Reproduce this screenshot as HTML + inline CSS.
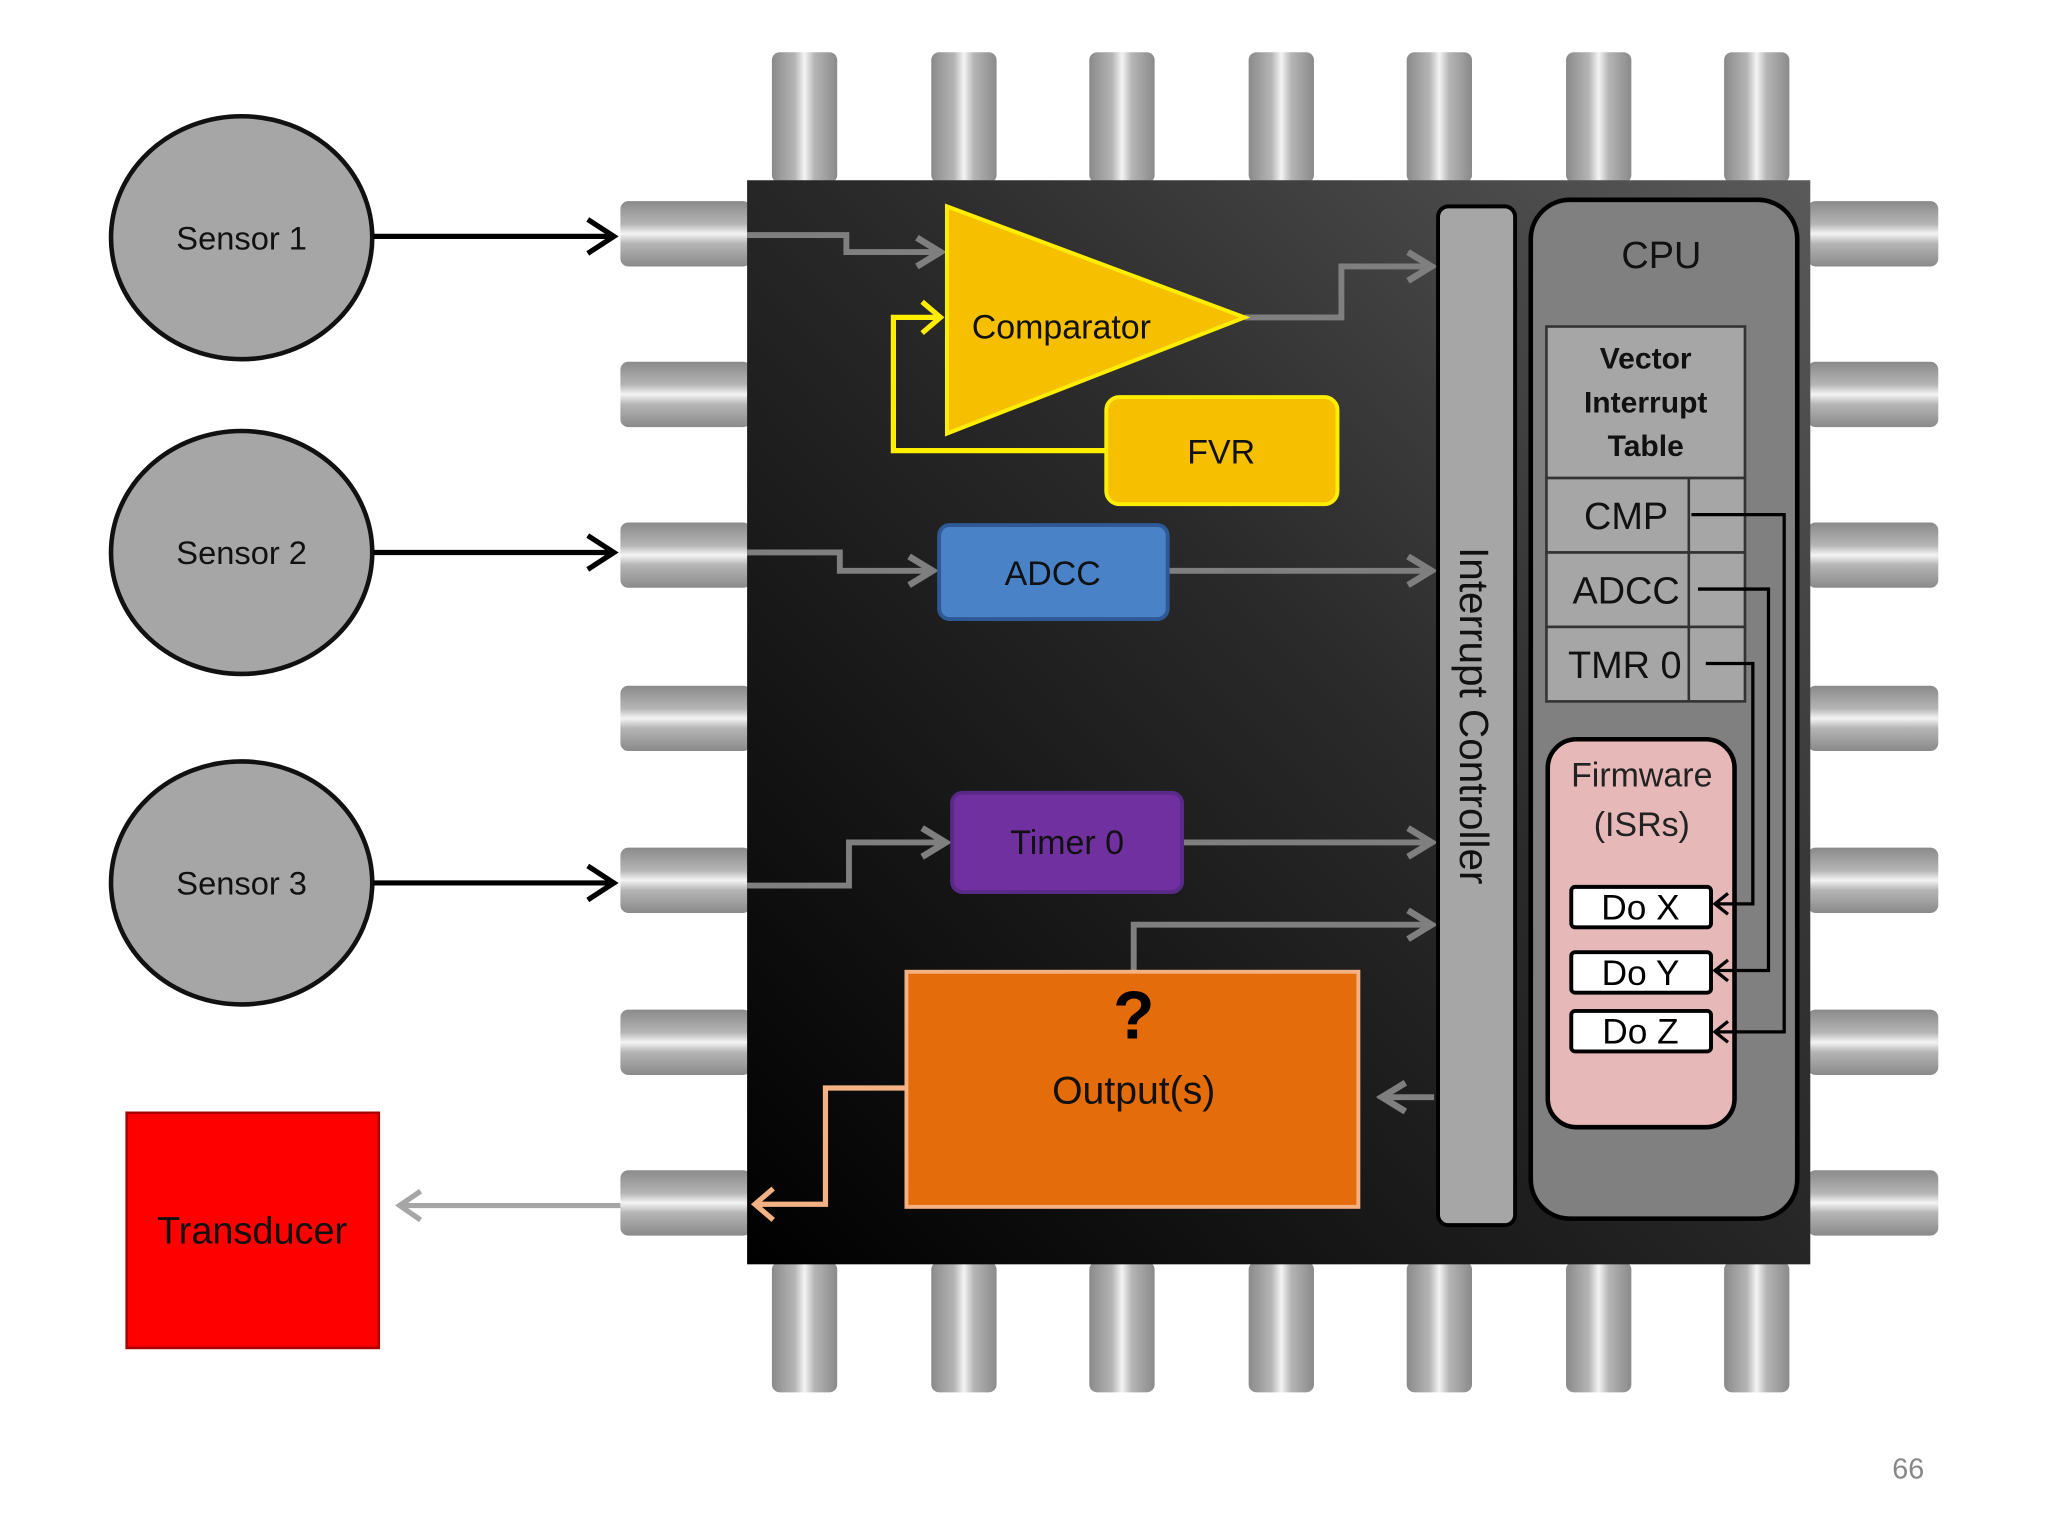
<!DOCTYPE html>
<html><head><meta charset="utf-8"><style>
html,body{margin:0;padding:0;background:#fff;width:2048px;height:1536px;overflow:hidden}
svg{display:block}
text{font-family:"Liberation Sans","DejaVu Sans",sans-serif}
</style></head><body>
<svg width="2048" height="1536" viewBox="0 0 1568 1176" xmlns="http://www.w3.org/2000/svg">
<defs>
<linearGradient id="chip" x1="1" y1="0" x2="0" y2="1">
<stop offset="0" stop-color="#5a5a5a"/><stop offset="0.45" stop-color="#2a2a2a"/><stop offset="1" stop-color="#000"/>
</linearGradient>
<linearGradient id="pinV" x1="0" y1="0" x2="0" y2="1">
<stop offset="0" stop-color="#8a8a8a"/><stop offset="0.35" stop-color="#b5b5b5"/><stop offset="0.5" stop-color="#f4f4f4"/><stop offset="0.65" stop-color="#b5b5b5"/><stop offset="1" stop-color="#8a8a8a"/>
</linearGradient>
<linearGradient id="pinH" x1="0" y1="0" x2="1" y2="0">
<stop offset="0" stop-color="#8a8a8a"/><stop offset="0.35" stop-color="#b5b5b5"/><stop offset="0.5" stop-color="#f4f4f4"/><stop offset="0.65" stop-color="#b5b5b5"/><stop offset="1" stop-color="#8a8a8a"/>
</linearGradient>
<marker id="ag" markerWidth="26" markerHeight="26" refX="22" refY="13" orient="auto" markerUnits="userSpaceOnUse" viewBox="0 0 26 26"><path d="M4,2 L22,13 L4,24" fill="none" stroke="#7f7f7f" stroke-width="5"/></marker>
</defs>

<g fill="url(#pinH)">
<rect x="591" y="40" width="50" height="100" rx="6"/><rect x="713" y="40" width="50" height="100" rx="6"/><rect x="834" y="40" width="50" height="100" rx="6"/><rect x="956" y="40" width="50" height="100" rx="6"/><rect x="1077" y="40" width="50" height="100" rx="6"/><rect x="1199" y="40" width="50" height="100" rx="6"/><rect x="1320" y="40" width="50" height="100" rx="6"/>
<rect x="591" y="966" width="50" height="100" rx="6"/><rect x="713" y="966" width="50" height="100" rx="6"/><rect x="834" y="966" width="50" height="100" rx="6"/><rect x="956" y="966" width="50" height="100" rx="6"/><rect x="1077" y="966" width="50" height="100" rx="6"/><rect x="1199" y="966" width="50" height="100" rx="6"/><rect x="1320" y="966" width="50" height="100" rx="6"/>
</g>
<g fill="url(#pinV)">
<rect x="475" y="154" width="100" height="50" rx="6"/><rect x="475" y="277" width="100" height="50" rx="6"/><rect x="475" y="400" width="100" height="50" rx="6"/><rect x="475" y="525" width="100" height="50" rx="6"/><rect x="475" y="649" width="100" height="50" rx="6"/><rect x="475" y="773" width="100" height="50" rx="6"/><rect x="475" y="896" width="100" height="50" rx="6"/>
<rect x="1384" y="154" width="100" height="50" rx="6"/><rect x="1384" y="277" width="100" height="50" rx="6"/><rect x="1384" y="400" width="100" height="50" rx="6"/><rect x="1384" y="525" width="100" height="50" rx="6"/><rect x="1384" y="649" width="100" height="50" rx="6"/><rect x="1384" y="773" width="100" height="50" rx="6"/><rect x="1384" y="896" width="100" height="50" rx="6"/>
</g>
<rect x="572" y="138" width="814" height="830" fill="url(#chip)"/>

<g fill="#a6a6a6" stroke="#111" stroke-width="3.5">
<ellipse cx="185" cy="182" rx="100" ry="93"/><ellipse cx="185" cy="423" rx="100" ry="93"/><ellipse cx="185" cy="676" rx="100" ry="93"/>
</g>
<g font-size="25" fill="#111" text-anchor="middle">
<text x="185" y="191">Sensor 1</text><text x="185" y="432">Sensor 2</text><text x="185" y="685">Sensor 3</text>
</g>
<g stroke="#000" stroke-width="4" fill="none">
<path d="M286,181H470M450,168L470,181L450,194"/>
<path d="M286,423H470M450,410L470,423L450,436"/>
<path d="M286,676H470M450,663L470,676L450,689"/>
</g>

<rect x="97" y="852" width="193" height="180" fill="#ff0000" stroke="#a00" stroke-width="2"/>
<text x="193" y="952" font-size="29" text-anchor="middle" fill="#111">Transducer</text>
<path d="M475,923H306M322,912L306,923L322,934" stroke="#a6a6a6" stroke-width="4" fill="none"/>

<g stroke="#7f7f7f" stroke-width="4.5" fill="none" marker-end="url(#ag)">
<path d="M572,180H648V193H720"/>
<path d="M953,243H1027V204H1096"/>
<path d="M572,423H643V437H714"/>
<path d="M894,437H1096"/>
<path d="M572,678H650V645H724"/>
<path d="M905,645H1096"/>
<path d="M868,744V708H1096"/>
<path d="M1098,840H1058"/>
</g>

<polygon points="725,158 725,332 953,243" fill="#f6c000" stroke="#ffee00" stroke-width="3"/>
<text x="744" y="259" font-size="26" fill="#111">Comparator</text>
<rect x="847" y="304" width="177" height="82" rx="10" fill="#f6c000" stroke="#ffee00" stroke-width="3"/>
<text x="935" y="355" font-size="26" text-anchor="middle" fill="#111">FVR</text>
<path d="M847,345H684V243H720M706,231L720,243L706,255" stroke="#ffee00" stroke-width="4" fill="none"/>

<rect x="719" y="402" width="175" height="72" rx="8" fill="#4a82c8" stroke="#2d5a96" stroke-width="3"/>
<text x="806" y="448" font-size="26" text-anchor="middle" fill="#111">ADCC</text>
<rect x="729" y="607" width="176" height="76" rx="8" fill="#7030a0" stroke="#5a2a8a" stroke-width="3"/>
<text x="817" y="654" font-size="26" text-anchor="middle" fill="#111">Timer 0</text>

<rect x="694" y="744" width="346" height="180" fill="#e46c0a" stroke="#f4b183" stroke-width="3"/>
<text x="868" y="795" font-size="52" font-weight="bold" text-anchor="middle" fill="#000">?</text>
<text x="868" y="845" font-size="30" text-anchor="middle" fill="#111">Output(s)</text>
<path d="M694,833H632V922H578M592,910L578,922L592,934" stroke="#f4b183" stroke-width="4" fill="none"/>

<rect x="1101" y="158" width="59" height="780" rx="8" fill="#a6a6a6" stroke="#000" stroke-width="3"/>
<text transform="translate(1118,548) rotate(90)" font-size="31" text-anchor="middle" fill="#111">Interrupt Controller</text>

<rect x="1172" y="153" width="204" height="780" rx="30" fill="#808080" stroke="#000" stroke-width="3.5"/>
<text x="1272" y="205" font-size="29" text-anchor="middle" fill="#111">CPU</text>
<g stroke="#333" stroke-width="2" fill="#a6a6a6">
<rect x="1184" y="250" width="152" height="116"/>
<rect x="1184" y="366" width="152" height="57"/>
<rect x="1184" y="423" width="152" height="57"/>
<rect x="1184" y="480" width="152" height="57"/>
<path d="M1293,366V537" fill="none"/>
</g>
<g font-size="23" font-weight="bold" text-anchor="middle" fill="#111">
<text x="1260" y="282">Vector</text><text x="1260" y="316">Interrupt</text><text x="1260" y="349">Table</text>
</g>
<g font-size="29" text-anchor="middle" fill="#111">
<text x="1245" y="405">CMP</text><text x="1245" y="462">ADCC</text><text x="1244" y="519">TMR 0</text>
</g>
<rect x="1185" y="566" width="143" height="297" rx="22" fill="#e6b9b8" stroke="#000" stroke-width="3.5"/>
<text x="1257" y="602" font-size="26" text-anchor="middle" fill="#222">Firmware</text>
<text x="1257" y="640" font-size="26" text-anchor="middle" fill="#222">(ISRs)</text>
<g fill="#fff" stroke="#000" stroke-width="3">
<rect x="1203" y="679" width="107" height="31" rx="3"/><rect x="1203" y="729" width="107" height="31" rx="3"/><rect x="1203" y="774" width="107" height="31" rx="3"/>
</g>
<g font-size="27" text-anchor="middle" fill="#000">
<text x="1256" y="704">Do X</text><text x="1256" y="754">Do Y</text><text x="1256" y="799">Do Z</text>
</g>
<g stroke="#000" stroke-width="2.5" fill="none">
<path d="M1295,394H1366V790H1313M1323,782L1313,790L1323,798"/>
<path d="M1300,451H1354V743H1313M1323,735L1313,743L1323,751"/>
<path d="M1306,508H1342V692H1313M1323,684L1313,692L1323,700"/>
</g>

<text x="1461" y="1132" font-size="22" text-anchor="middle" fill="#888">66</text>
</svg>
</body></html>
